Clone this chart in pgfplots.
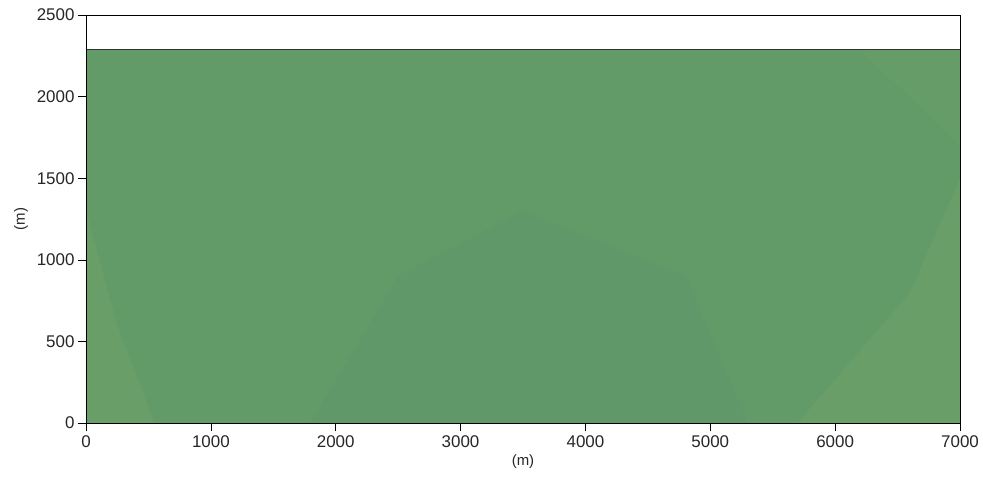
\documentclass[border=0pt]{standalone}
\usepackage{pgfplots}
\pgfplotsset{compat=1.18}
\usepackage{fontspec}
\setmainfont{Liberation Sans}
\definecolor{maingreen}{RGB}{98,154,104}
\definecolor{lightgreen}{RGB}{122,168,104}
\definecolor{bluegreen}{RGB}{92,150,112}
\begin{document}
\begin{tikzpicture}
\path[use as bounding box] (-86bp,-64bp) rectangle (897bp,423bp);
\begin{axis}[
  at={(0,0)}, anchor=south west,
  scale only axis, width=874bp, height=408bp,
  xmin=0, xmax=7000, ymin=0, ymax=2500,
  xtick={0,1000,...,7000}, ytick={0,500,...,2500},
  tick pos=left, tick align=outside,
  major tick length=8bp,
  tick style={black, line width=0.6pt},
  axis line style={black, line width=1pt},
  /pgf/number format/assume math mode=true,
  /pgf/number format/1000 sep={},
  tick label style={font=\fontsize{17}{19}\selectfont, text=black!85},
  xticklabel style={yshift=-1bp},
  label style={font=\fontsize{15}{17}\selectfont, text=black!85},
  xlabel={(m)}, ylabel={(m)},
  xlabel style={yshift=0bp},
  ylabel style={yshift=2bp},
  axis on top,
]
\addplot[fill=maingreen, draw=none] coordinates {(0,2290) (7000,2290)} \closedcycle;
\addplot[fill=lightgreen, draw=none, fill opacity=0.3] coordinates {(0,0) (0,1300) (250,600) (550,0)} -- cycle;
\addplot[fill=lightgreen, draw=none, fill opacity=0.3] coordinates {(7000,0) (7000,1500) (6600,800) (5700,0)} -- cycle;
\addplot[fill=lightgreen, draw=none, fill opacity=0.2] coordinates {(6200,2290) (7000,2290) (7000,1700)} -- cycle;
\addplot[fill=bluegreen, draw=none, fill opacity=0.3] coordinates {(1800,0) (2500,900) (3500,1300) (4800,900) (5300,0)} -- cycle;
\addplot[draw=black!80, line width=0.8pt] coordinates {(0,2290) (7000,2290)};
\end{axis}
\end{tikzpicture}
\end{document}
